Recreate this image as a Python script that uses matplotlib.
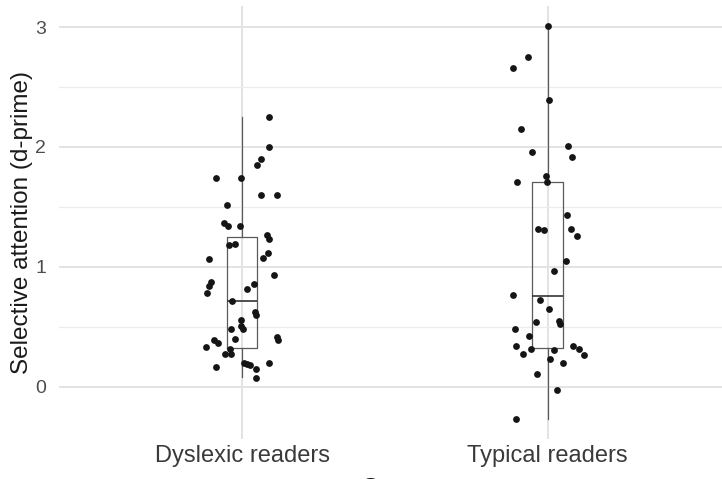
import numpy as np
import matplotlib.pyplot as plt

plt.rcParams['font.family'] = ['Liberation Sans', 'DejaVu Sans']

groups = ["Dyslexic readers", "Typical readers"]

# d-prime values, with the horizontal jitter offsets
dys_vals = [2.252, 1.997, 1.896, 1.849, 1.740, 1.740, 1.601, 1.601, 1.518, 1.362,
            1.337, 1.337, 1.262, 1.231, 1.181, 1.187, 1.117, 1.070, 1.062, 0.931,
            0.875, 0.842, 0.783, 0.856, 0.817, 0.711, 0.622, 0.597, 0.555, 0.505,
            0.477, 0.477, 0.396, 0.416, 0.391, 0.388, 0.366, 0.327, 0.310, 0.271,
            0.268, 0.199, 0.188, 0.177, 0.149, 0.199, 0.160, 0.071]
dys_jit = [0.088, 0.089, 0.062, 0.049, -0.084, -0.005, 0.062, 0.115, -0.049, -0.059,
           -0.047, -0.008, 0.081, 0.089, -0.042, -0.023, 0.086, 0.070, -0.107, 0.105,
           -0.101, -0.107, -0.113, 0.040, 0.015, -0.032, 0.044, 0.047, -0.005, -0.002,
           0.002, -0.035, -0.024, 0.114, 0.118, -0.091, -0.080, -0.119, -0.039, -0.056,
           -0.035, 0.006, 0.016, 0.026, 0.045, 0.088, -0.085, 0.045]

typ_vals = [3.012, 2.750, 2.656, 2.394, 2.149, 2.005, 1.960, 1.916, 1.760, 1.710,
            1.710, 1.429, 1.315, 1.304, 1.312, 1.254, 1.045, 0.962, 0.766, 0.725,
            0.650, 0.541, 0.544, 0.522, 0.477, 0.422, 0.338, 0.313, 0.274, 0.302,
            0.338, 0.316, 0.260, 0.227, 0.196, 0.102, -0.029, -0.269]
typ_jit = [0.000, -0.064, -0.114, 0.004, -0.087, 0.066, -0.051, 0.078, -0.007, -0.003,
           -0.101, 0.062, -0.032, -0.012, 0.075, 0.096, 0.060, 0.020, -0.114, -0.024,
           0.005, -0.039, 0.036, 0.040, -0.107, -0.062, -0.105, -0.055, -0.082, 0.020,
           0.084, 0.101, 0.120, 0.008, 0.050, -0.034, 0.029, -0.104]

# box statistics: whisker low, q1, median, q3, whisker high
dys_box = [0.077, 0.319, 0.711, 1.245, 2.252]
typ_box = [-0.269, 0.319, 0.753, 1.710, 3.012]

W, H = 722, 479
fig = plt.figure(figsize=(W / 100, H / 100), dpi=100)
ax = fig.add_axes([58.6 / W, 40.5 / H, 672.6 / W, 432.2 / H])

stats = []
for name, b in zip(groups, [dys_box, typ_box]):
    stats.append({'label': name, 'whislo': b[0], 'q1': b[1], 'med': b[2],
                  'q3': b[3], 'whishi': b[4], 'fliers': []})
box_col = '#5a5a5a'
ax.bxp(stats, positions=[1, 2], widths=0.1, showcaps=False, showfliers=False,
       boxprops=dict(color=box_col, linewidth=0.9),
       whiskerprops=dict(color=box_col, linewidth=0.9),
       medianprops=dict(color='#333333', linewidth=1.2), zorder=2)

for i, (vals, jit) in enumerate([(dys_vals, dys_jit), (typ_vals, typ_jit)]):
    ax.scatter(np.array(jit) + i + 1, vals, s=24, color='#151515',
               linewidths=0, zorder=3)

ax.set_xlim(0.4, 2.6)
ax.set_ylim(-0.434, 3.174)
ax.set_xticks([1, 2])
ax.set_xticklabels(groups)
ax.set_yticks([0, 1, 2, 3])
ax.set_yticks([0.5, 1.5, 2.5], minor=True)

ax.grid(True, which='major', color='#e3e3e3', linewidth=1.4, zorder=0)
ax.grid(True, which='minor', axis='y', color='#ececec', linewidth=0.9, zorder=0)
ax.set_axisbelow(True)
for s in ax.spines.values():
    s.set_visible(False)

ax.tick_params(axis='both', which='both', length=0)
ax.tick_params(axis='y', labelsize=14, labelcolor='#4d4d4d', pad=9)
ax.tick_params(axis='x', labelsize=17, labelcolor='#3a3a3a', pad=5)

ax.set_ylabel('Selective attention (d-prime)', fontsize=17.5, color='#1a1a1a')
ax.yaxis.set_label_coords(-0.038, 0.5)
ax.set_xlabel('Group', fontsize=17.5, color='#1a1a1a')
ax.xaxis.set_label_coords(0.5, -0.091)

fig.savefig('out.png', dpi=100)
